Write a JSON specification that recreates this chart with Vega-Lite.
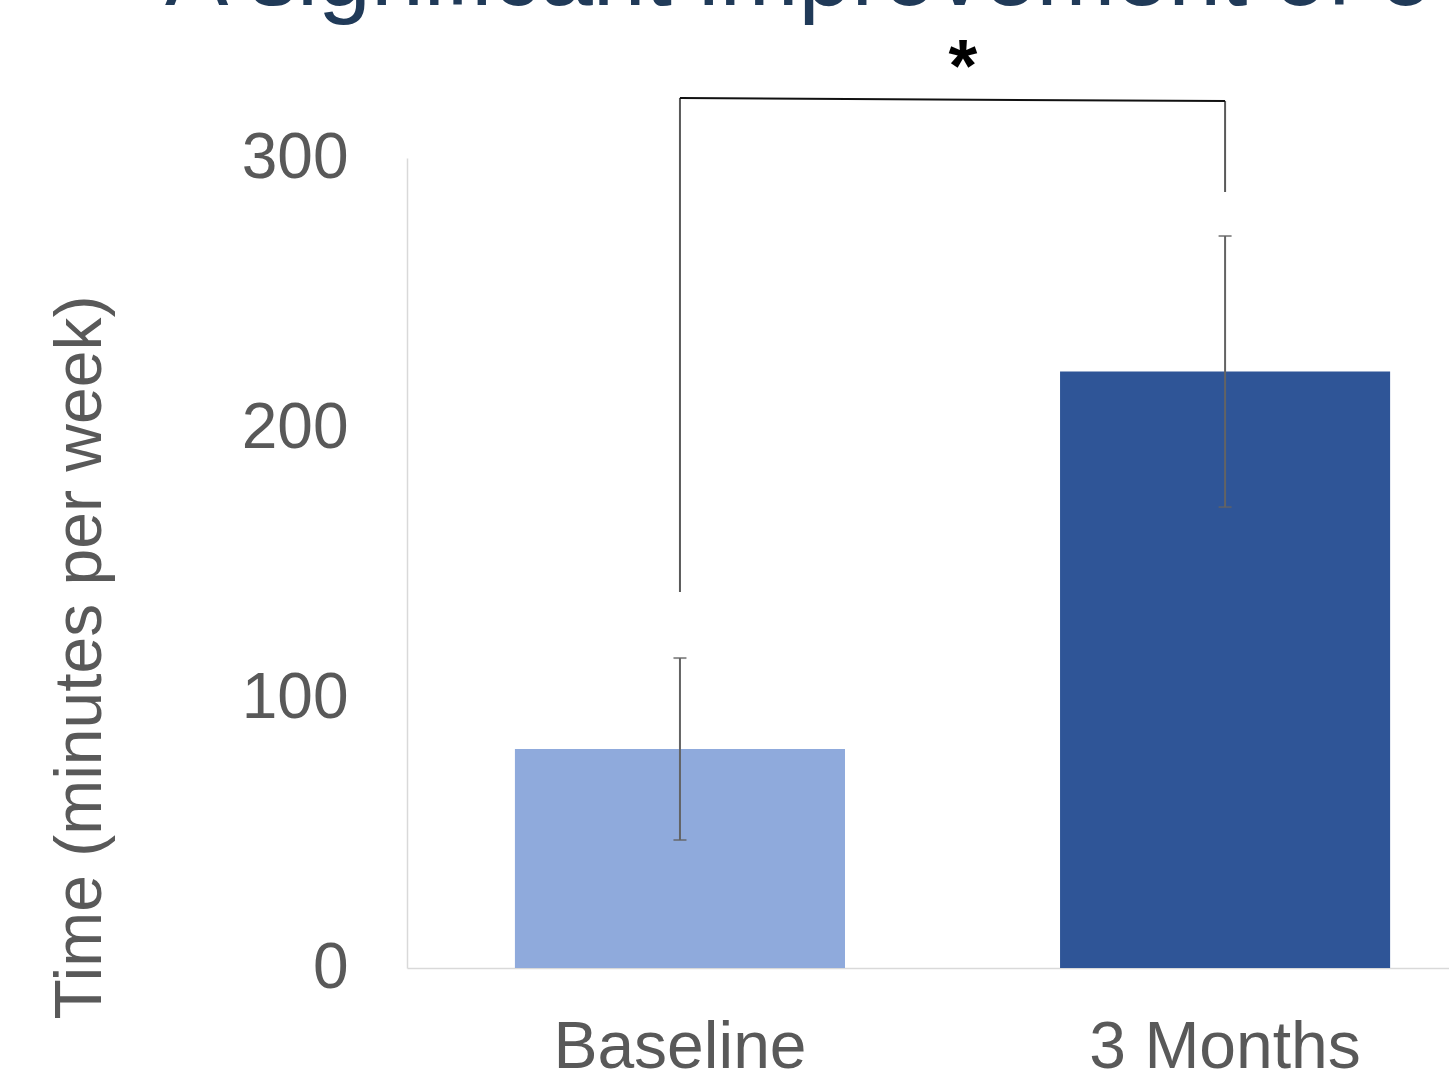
{
  "$schema": "https://vega.github.io/schema/vega-lite/v6.json",
  "autosize": "none",
  "width": 1042,
  "height": 810,
  "padding": {"left": 407, "top": 158, "right": 0, "bottom": 103},
  "background": "white",
  "title": {
    "text": "A significant improvement of o",
    "anchor": "start",
    "frame": "group",
    "font": "Liberation Sans",
    "fontSize": 95,
    "fontWeight": "normal",
    "color": "#203A58",
    "baseline": "alphabetic",
    "offset": 0,
    "limit": 0,
    "dx": -242,
    "dy": 68
  },
  "config": {
    "view": {"stroke": null},
    "font": "Liberation Sans"
  },
  "datasets": {
    "activity": [
      {"period": "Baseline", "minutes": 81.1, "lower": 47.4, "upper": 114.8},
      {"period": "3 Months", "minutes": 220.9, "lower": 170.7, "upper": 271.1}
    ],
    "bracket_legs": [
      {"period": "Baseline", "from": 139.3, "to": 322.2},
      {"period": "3 Months", "from": 287.4, "to": 321.1}
    ],
    "bracket_bar": [
      {"left": "Baseline", "right": "3 Months", "left_y": 322.2, "right_y": 321.1, "label": "*"}
    ]
  },
  "layer": [
    {
      "data": {"name": "activity"},
      "mark": {"type": "bar"},
      "encoding": {
        "x": {
          "field": "period",
          "type": "nominal",
          "sort": ["Baseline", "3 Months"],
          "scale": {"domain": ["Baseline", "3 Months"], "paddingInner": 0.3945, "paddingOuter": 0.153, "align": 0.647},
          "axis": {
            "title": null,
            "labelAngle": 0,
            "labelFontSize": 66,
            "labelColor": "#595959",
            "labelPadding": 99,
            "labelBaseline": "alphabetic",
            "labelLimit": 0,
            "ticks": false,
            "tickSize": 0,
            "domainColor": "#D9D9D9",
            "domainWidth": 1.5
          }
        },
        "y": {
          "field": "minutes",
          "type": "quantitative",
          "title": "Time (minutes per week)",
          "scale": {"domain": [0, 300], "nice": false, "zero": true},
          "axis": {
            "values": [0, 100, 200, 300],
            "grid": false,
            "ticks": false,
            "tickSize": 0,
            "labelFontSize": 64,
            "labelColor": "#595959",
            "labelPadding": 59,
            "domainColor": "#D9D9D9",
            "domainWidth": 1.5,
            "titleFontSize": 66,
            "titleFontWeight": "normal",
            "titleColor": "#595959",
            "titleAngle": 270,
            "titleAlign": "center",
            "titleBaseline": "alphabetic",
            "titleLimit": 0,
            "titleX": -307,
            "titleY": 499
          }
        },
        "color": {
          "field": "period",
          "type": "nominal",
          "scale": {"domain": ["Baseline", "3 Months"], "range": ["#8FAADC", "#2F5597"]},
          "legend": null
        }
      }
    },
    {
      "data": {"name": "activity"},
      "mark": {"type": "rule", "color": "#636363", "strokeWidth": 2},
      "encoding": {
        "x": {"field": "period", "type": "nominal"},
        "y": {"field": "lower", "type": "quantitative", "title": "Time (minutes per week)"},
        "y2": {"field": "upper"}
      }
    },
    {
      "data": {"name": "activity"},
      "mark": {"type": "tick", "color": "#636363", "size": 13, "thickness": 2},
      "encoding": {
        "x": {"field": "period", "type": "nominal"},
        "y": {"field": "lower", "type": "quantitative", "title": "Time (minutes per week)"}
      }
    },
    {
      "data": {"name": "activity"},
      "mark": {"type": "tick", "color": "#636363", "size": 13, "thickness": 2},
      "encoding": {
        "x": {"field": "period", "type": "nominal"},
        "y": {"field": "upper", "type": "quantitative", "title": "Time (minutes per week)"}
      }
    },
    {
      "data": {"name": "bracket_legs"},
      "mark": {"type": "rule", "color": "#595959", "strokeWidth": 2},
      "encoding": {
        "x": {"field": "period", "type": "nominal"},
        "y": {"field": "from", "type": "quantitative", "title": "Time (minutes per week)"},
        "y2": {"field": "to"}
      }
    },
    {
      "data": {"name": "bracket_bar"},
      "mark": {"type": "rule", "color": "#111111", "strokeWidth": 2},
      "encoding": {
        "x": {"field": "left", "type": "nominal"},
        "x2": {"field": "right"},
        "y": {"field": "left_y", "type": "quantitative", "title": "Time (minutes per week)"},
        "y2": {"field": "right_y"}
      }
    },
    {
      "data": {"name": "bracket_bar"},
      "mark": {"type": "text", "font": "Liberation Sans", "fontSize": 74, "fontWeight": "bold", "color": "#000000", "baseline": "alphabetic", "align": "center", "dx": 283, "dy": -7},
      "encoding": {
        "x": {"field": "left", "type": "nominal"},
        "y": {"field": "left_y", "type": "quantitative", "title": "Time (minutes per week)"},
        "text": {"field": "label"}
      }
    }
  ]
}
